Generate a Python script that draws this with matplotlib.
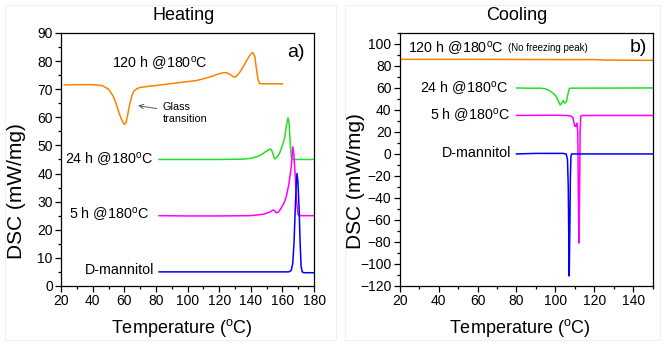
import matplotlib
matplotlib.use("Agg")
import matplotlib.pyplot as plt
from matplotlib.ticker import MultipleLocator
from matplotlib.patches import Rectangle

plt.rcParams['font.family'] = ['Liberation Sans', 'DejaVu Sans']
plt.rcParams['mathtext.default'] = 'regular'

DEG = r"$^{o}$"

# ---- heating data ----
h120_x = [22, 30, 40, 46, 50, 53, 55, 57, 59, 60, 61, 62, 63, 64, 65, 66, 68, 70, 75, 80, 90, 100, 105,
          110, 115, 120, 123, 125, 127, 129, 130, 131, 133, 135, 137, 139, 140.5, 141.5, 142.5, 143.5,
          144.5, 145.5, 148, 160]
h120_y = [71.5, 71.6, 71.6, 71.3, 70, 67.5, 64.5, 61, 58.3, 57.5, 58, 60.5, 63.5, 66, 68, 69.3, 70.2, 70.6,
          71, 71.3, 72, 72.7, 73, 73.7, 74.5, 75.5, 75.9, 75.8, 75.2, 74.4, 74.3, 74.7, 76, 77.8, 79.8,
          81.8, 82.8, 83, 81.5, 77.5, 73.5, 72, 71.9, 71.9]

h24_x = [82, 100, 120, 135, 140, 144, 147, 150, 152, 153, 154, 155, 156, 158, 160, 161.5, 162.5, 163.5,
         164.2, 164.8, 165.5, 166.5, 180]
h24_y = [45, 45, 45, 45.1, 45.4, 46, 46.8, 48, 48.7, 48.5, 47, 45.2, 45.5, 47, 50, 53, 57, 59.8,
         58, 52, 46, 45, 45]

h5_x = [82, 100, 120, 140, 148, 152, 154, 155, 156, 157.5, 159, 161, 162.5, 164, 165.5, 166.5, 167.2,
        168, 169, 169.8, 170.5, 180]
h5_y = [25, 24.9, 24.9, 25, 25.5, 26.3, 27, 26.8, 26, 26.3, 27.5, 29.5, 32, 36, 42, 49.5, 47,
        40, 30, 25.5, 25, 25]

hman_x = [82, 120, 160, 164, 165.5, 166.5, 167.3, 168, 168.7, 169.2, 169.8, 170.5, 171.2, 171.8,
          172.5, 173.5, 180]
hman_y = [5, 5, 5, 5, 5.5, 8, 15, 26, 36, 40, 37, 28, 15, 7, 5, 4.7, 4.7]

# ---- cooling data ----
c120_x = [20, 60, 100, 120, 125, 140, 150]
c120_y = [86, 86, 85.8, 85.8, 85.4, 85.2, 85.1]

c24_x = [80, 88, 92, 95, 97, 99, 100.5, 101.5, 102.5, 103.5, 104, 104.5, 105.2, 105.8,
         106.5, 107, 107.5, 110, 150]
c24_y = [60, 59.7, 59.8, 59.2, 57.5, 55, 52, 48, 44.5, 47, 48.5, 46.5, 46.5, 48.5,
         55, 58.5, 59.8, 59.8, 60]

c5_x = [80, 100, 106, 108, 109, 109.6, 110, 110.6, 111, 111.5, 111.8, 112.1, 112.4, 112.7,
        113, 113.5, 150]
c5_y = [35, 35.2, 35, 34.5, 33, 28, 25, 25.5, 28, 20, -40, -81, -40, 20, 34, 35, 35]

cman_x = [80, 90, 100, 104, 105.5, 106.2, 106.6, 106.9, 107.1, 107.4, 107.7, 108, 108.3, 150]
cman_y = [0, 0.5, 0.5, 0.5, 0, -5, -30, -80, -111, -70, -20, -2, 0, 0]

ORANGE = '#ff8000'
GREEN = '#22e022'
MAGENTA = '#ff00ff'
BLUE = '#0000ff'

fig = plt.figure(figsize=(6.64, 3.47), dpi=100)

# faint panel frames
for x0, w in [(0.008, 0.498), (0.52, 0.474)]:
    fig.patches.append(Rectangle((x0, 0.02), w, 0.965, transform=fig.transFigure,
                                 fill=False, ec='#f0f0f0', lw=0.8))

ax1 = fig.add_axes([0.092, 0.176, 0.381, 0.729])
ax2 = fig.add_axes([0.602, 0.176, 0.381, 0.729])

lw = 1.1
ax1.plot(h120_x, h120_y, color=ORANGE, lw=lw)
ax1.plot(h24_x, h24_y, color=GREEN, lw=lw)
ax1.plot(h5_x, h5_y, color=MAGENTA, lw=lw)
ax1.plot(hman_x, hman_y, color=BLUE, lw=lw)

ax2.plot(c120_x, c120_y, color=ORANGE, lw=lw)
ax2.plot(c24_x, c24_y, color=GREEN, lw=lw)
ax2.plot(c5_x, c5_y, color=MAGENTA, lw=lw)
ax2.plot(cman_x, cman_y, color=BLUE, lw=lw)

ax1.set_xlim(20, 180)
ax1.set_ylim(0, 90)
ax1.xaxis.set_major_locator(MultipleLocator(20))
ax1.xaxis.set_minor_locator(MultipleLocator(10))
ax1.yaxis.set_major_locator(MultipleLocator(10))
ax1.yaxis.set_minor_locator(MultipleLocator(5))

ax2.set_xlim(20, 150)
ax2.set_ylim(-120, 110)
ax2.xaxis.set_major_locator(MultipleLocator(20))
ax2.xaxis.set_minor_locator(MultipleLocator(10))
ax2.yaxis.set_minor_locator(MultipleLocator(10))
ax2.set_yticks(range(-120, 101, 20))

panels = [(ax1, 'Heating', 0.486, 0.375, 0.477), (ax2, 'Cooling', 0.462, 0.415, 0.474)]
for ax, title, tx, ly, lx in panels:
    ax.tick_params(which='major', direction='out', length=4, width=0.9, labelsize=10, pad=2)
    ax.tick_params(which='minor', direction='out', length=2.5, width=0.9)
    for s in ax.spines.values():
        s.set_linewidth(0.9)
    ax.set_xlabel('Temperature (' + DEG + 'C)', fontsize=13, va='center')
    ax.xaxis.set_label_coords(lx, -0.166)
    ax.set_ylabel('DSC (mW/mg)', fontsize=15, va='center')
    ax.yaxis.set_label_coords(-0.175, ly)
    ax.text(tx, 1.068, title, fontsize=13, ha='center', va='center', transform=ax.transAxes)

# heating labels
ax1.text(82.5, 79.3, '120 h @180' + DEG + 'C', fontsize=10.3, ha='center', va='center')
ax1.annotate('Glass\ntransition', xy=(67, 64.3), xytext=(84, 61.5), fontsize=7.8, va='center',
             arrowprops=dict(arrowstyle='->', color='#555555', lw=0.7))
ax1.text(78, 45, '24 h @180' + DEG + 'C', fontsize=10.3, ha='right', va='center')
ax1.text(75.5, 25.7, '5 h @180' + DEG + 'C', fontsize=10.3, ha='right', va='center')
ax1.text(79, 5.5, 'D-mannitol', fontsize=10.3, ha='right', va='center')
ax1.text(174, 83, 'a)', fontsize=14, ha='right', va='center')

# cooling labels
ax2.text(24, 96.5, '120 h @180' + DEG + 'C', fontsize=10.3, ha='left', va='center')
ax2.text(75.5, 96, '(No freezing peak)', fontsize=7, ha='left', va='center')
ax2.text(75.5, 60, '24 h @180' + DEG + 'C', fontsize=10.3, ha='right', va='center')
ax2.text(76.5, 35, '5 h @180' + DEG + 'C', fontsize=10.3, ha='right', va='center')
ax2.text(77.5, 0.5, 'D-mannitol', fontsize=10.3, ha='right', va='center')
ax2.text(147, 96.5, 'b)', fontsize=14, ha='right', va='center')

fig.savefig('out.png', dpi=100)
